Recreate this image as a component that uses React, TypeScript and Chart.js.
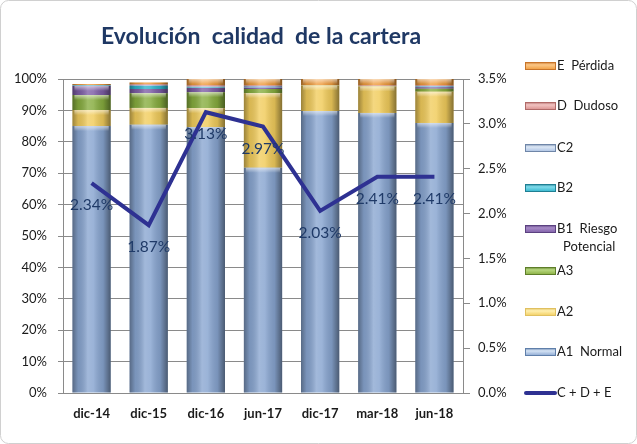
import React, { useEffect, useRef } from "react";
import { Chart, registerables } from "chart.js";

Chart.register(...registerables);

const categories = ["dic-14", "dic-15", "dic-16", "jun-17", "dic-17", "mar-18", "jun-18"];
const a1Normal = [85.0, 85.4, 84.7, 71.7, 89.8, 89.2, 86.0];
const a2 = [5.1, 5.4, 6.0, 23.8, 8.1, 8.4, 9.9];
const a3 = [4.8, 4.7, 5.1, 1.3, 0.1, 0.1, 1.0];
const b1Riesgo = [2.9, 1.3, 1.3, 0.4, 0.0, 0.0, 0.5];
const b2 = [0.1, 1.0, 0.2, 0.1, 0.0, 0.0, 0.1];
const c2 = [0.1, 0.3, 0.3, 0.5, 0.0, 0.1, 0.3];
const dDudoso = [0.1, 0.2, 0.4, 0.2, 0.1, 0.1, 0.2];
const ePerdida = [0.3, 0.6, 2.0, 2.0, 1.9, 2.1, 2.0];
const cde = [2.34, 1.87, 3.13, 2.97, 2.03, 2.41, 2.41];

const leftTicks = [0, 10, 20, 30, 40, 50, 60, 70, 80, 90, 100];
const rightTicks = [0, 0.5, 1.0, 1.5, 2.0, 2.5, 3.0, 3.5];

const FONT = "Lato, 'Open Sans', sans-serif";
const TEXT = "#1a1a1a";
const GRID = "#8a8a8a";

const barOverlay = {
  id: "barOverlay",
  afterDatasetDraw(chart: any, args: any) {
    const meta = args.meta;
    if (meta.type !== "bar") return;
    const ctx = chart.ctx;
    const area = chart.chartArea;
    ctx.save();
    ctx.beginPath();
    ctx.rect(area.left, area.top, area.right - area.left, area.bottom - area.top);
    ctx.clip();
    meta.data.forEach((el: any) => {
      const p = el.getProps(["x", "y", "base", "width"], true);
      const top = Math.min(p.y, p.base);
      const h = Math.abs(p.base - p.y);
      if (h < 0.3) return;
      const l = p.x - p.width / 2;
      const g = ctx.createLinearGradient(l, 0, l + p.width, 0);
      g.addColorStop(0, "rgba(0,0,0,0.36)");
      g.addColorStop(0.15, "rgba(0,0,0,0.10)");
      g.addColorStop(0.4, "rgba(255,255,255,0.22)");
      g.addColorStop(0.55, "rgba(255,255,255,0.16)");
      g.addColorStop(0.8, "rgba(0,0,0,0.10)");
      g.addColorStop(1, "rgba(0,0,0,0.45)");
      ctx.fillStyle = g;
      ctx.fillRect(l, top, p.width, h);
      if (h > 5) {
        const vg = ctx.createLinearGradient(0, top, 0, top + 5);
        vg.addColorStop(0, "rgba(255,255,255,0.55)");
        vg.addColorStop(1, "rgba(255,255,255,0)");
        ctx.fillStyle = vg;
        ctx.fillRect(l + 2, top, p.width - 4, 5);
      }
    });
    ctx.restore();
  },
};

const lineLabels = {
  id: "lineLabels",
  afterDatasetsDraw(chart: any) {
    const ctx = chart.ctx;
    chart.data.datasets.forEach((ds: any, i: number) => {
      if (ds.type !== "line") return;
      const meta = chart.getDatasetMeta(i);
      ctx.save();
      ctx.font = `15.5px ${FONT}`;
      ctx.fillStyle = "#1F3A68";
      ctx.textAlign = "center";
      ctx.textBaseline = "middle";
      meta.data.forEach((pt: any, j: number) => {
        ctx.fillText(ds.data[j].toFixed(2) + "%", pt.x, pt.y + 22);
      });
      ctx.restore();
    });
  },
};

const frameTitleLegend = {
  id: "frameTitleLegend",
  beforeDraw(chart: any) {
    const ctx = chart.ctx;
    ctx.save();
    ctx.fillStyle = "#ffffff";
    ctx.fillRect(0, 0, chart.width, chart.height);
    ctx.strokeStyle = "#d0d0d0";
    ctx.lineWidth = 1;
    ctx.beginPath();
    ctx.roundRect(0.5, 0.5, chart.width - 1, chart.height - 1, 8);
    ctx.stroke();
    ctx.restore();
  },
  afterDraw(chart: any) {
    const ctx = chart.ctx;
    ctx.save();
    ctx.font = `bold 23px ${FONT}`;
    ctx.fillStyle = "#1F3864";
    ctx.textAlign = "center";
    ctx.textBaseline = "middle";
    ctx.fillText("Evolución  calidad  de la cartera", 261, 37);

    // legend
    const items = [...chart.data.datasets.filter((d: any) => d.type !== "line")].reverse()
      .concat(chart.data.datasets.filter((d: any) => d.type === "line"));
    const ys = [66, 106, 148, 188, 229, 271, 312, 352, 393];
    ctx.font = `13px ${FONT}`;
    ctx.textAlign = "left";
    items.forEach((d: any, i: number) => {
      const y = ys[i];
      if (d.type === "line") {
        ctx.strokeStyle = d.borderColor;
        ctx.lineWidth = 4;
        ctx.lineCap = "round";
        ctx.beginPath();
        ctx.moveTo(526, y);
        ctx.lineTo(555, y);
        ctx.stroke();
      } else {
        const g = ctx.createLinearGradient(0, y - 4, 0, y + 4);
        g.addColorStop(0, d.borderColor);
        g.addColorStop(0.35, d.legendLight);
        g.addColorStop(1, d.backgroundColor);
        ctx.fillStyle = g;
        ctx.fillRect(525, y - 4, 31, 8);
        ctx.strokeStyle = d.borderColor;
        ctx.lineWidth = 1;
        ctx.strokeRect(525.5, y - 3.5, 30, 7);
      }
      ctx.fillStyle = TEXT;
      const lines = Array.isArray(d.label) ? d.label : [d.label];
      lines.forEach((t: string, k: number) => {
        ctx.fillText(t, k === 0 ? 557 : 563, y + k * 18);
      });
    });
    ctx.restore();
  },
};

export default function App() {
  const ref = useRef<HTMLCanvasElement>(null);
  useEffect(() => {
    const bar = (label: any, data: number[], color: string, dark: string, light: string) => ({
      type: "bar" as const,
      label,
      data,
      backgroundColor: color,
      borderColor: dark,
      legendLight: light,
      borderWidth: 0,
      yAxisID: "y",
      stack: "s",
      order: 2,
      barPercentage: 0.67,
      categoryPercentage: 1,
    });
    const chart = new Chart(ref.current!, {
      data: {
        labels: categories,
        datasets: [
          bar("A1  Normal", a1Normal, "#88A5D0", "#5F7FAA", "#D6E4F5"),
          bar("A2", a2, "#F1CC5C", "#E0C060", "#FFF0B0"),
          bar("A3", a3, "#86AC3E", "#5E7E2A", "#B8D880"),
          bar(["B1  Riesgo", "Potencial"], b1Riesgo, "#7D5DA6", "#5B4180", "#A88CC8"),
          bar("B2", b2, "#2FB3CB", "#1F7F93", "#80DCEC"),
          bar("C2", c2, "#A9C0E2", "#6F86A8", "#DDE8F6"),
          bar("D  Dudoso", dDudoso, "#D88E8C", "#B06A68", "#F2C4C2"),
          bar("E  Pérdida", ePerdida, "#EE9A3C", "#C8742A", "#FCC888"),
          {
            type: "line" as const,
            label: "C + D + E",
            data: cde,
            borderColor: "#2E3192",
            backgroundColor: "#2E3192",
            borderWidth: 4,
            pointRadius: 0,
            tension: 0,
            yAxisID: "y2",
            order: 0,
          } as any,
        ] as any,
      },
      options: {
        animation: false,
        responsive: false,
        maintainAspectRatio: false,
        layout: { padding: { top: 79, left: 0, right: 0, bottom: 0 } },
        plugins: { legend: { display: false }, tooltip: { enabled: false }, title: { display: false } },
        scales: {
          x: {
            stacked: true,
            grid: { display: false, drawTicks: false },
            border: { display: true, color: GRID },
            ticks: { font: { family: FONT, size: 13, weight: "bold" }, color: TEXT, padding: 13, maxRotation: 0 },
            afterFit: (s: any) => { s.height = 51; },
          },
          y: {
            stacked: true,
            min: 0,
            max: 100,
            afterBuildTicks: (s: any) => { s.ticks = leftTicks.map((v) => ({ value: v })); },
            ticks: { callback: (v: any) => v + "%", font: { family: FONT, size: 13 }, color: TEXT, padding: 11 },
            grid: { color: GRID, tickLength: 5 },
            border: { color: GRID },
            afterFit: (s: any) => { s.width = 63; },
          },
          y2: {
            position: "right",
            min: 0,
            max: 3.5,
            afterBuildTicks: (s: any) => { s.ticks = rightTicks.map((v) => ({ value: v })); },
            ticks: { callback: (v: any) => Number(v).toFixed(1) + "%", font: { family: FONT, size: 13 }, color: TEXT, padding: 8 },
            grid: { drawOnChartArea: false, color: GRID, tickLength: 7 },
            border: { color: GRID },
            afterFit: (s: any) => { s.width = 174; },
          },
        },
      } as any,
      plugins: [frameTitleLegend, barOverlay, lineLabels],
    });
    return () => chart.destroy();
  }, []);
  return (
    <div style={{ position: "fixed", left: 0, top: 0, width: 637, height: 444 }}>
      <canvas ref={ref} width={637} height={444} style={{ width: 637, height: 444 }} />
    </div>
  );
}
